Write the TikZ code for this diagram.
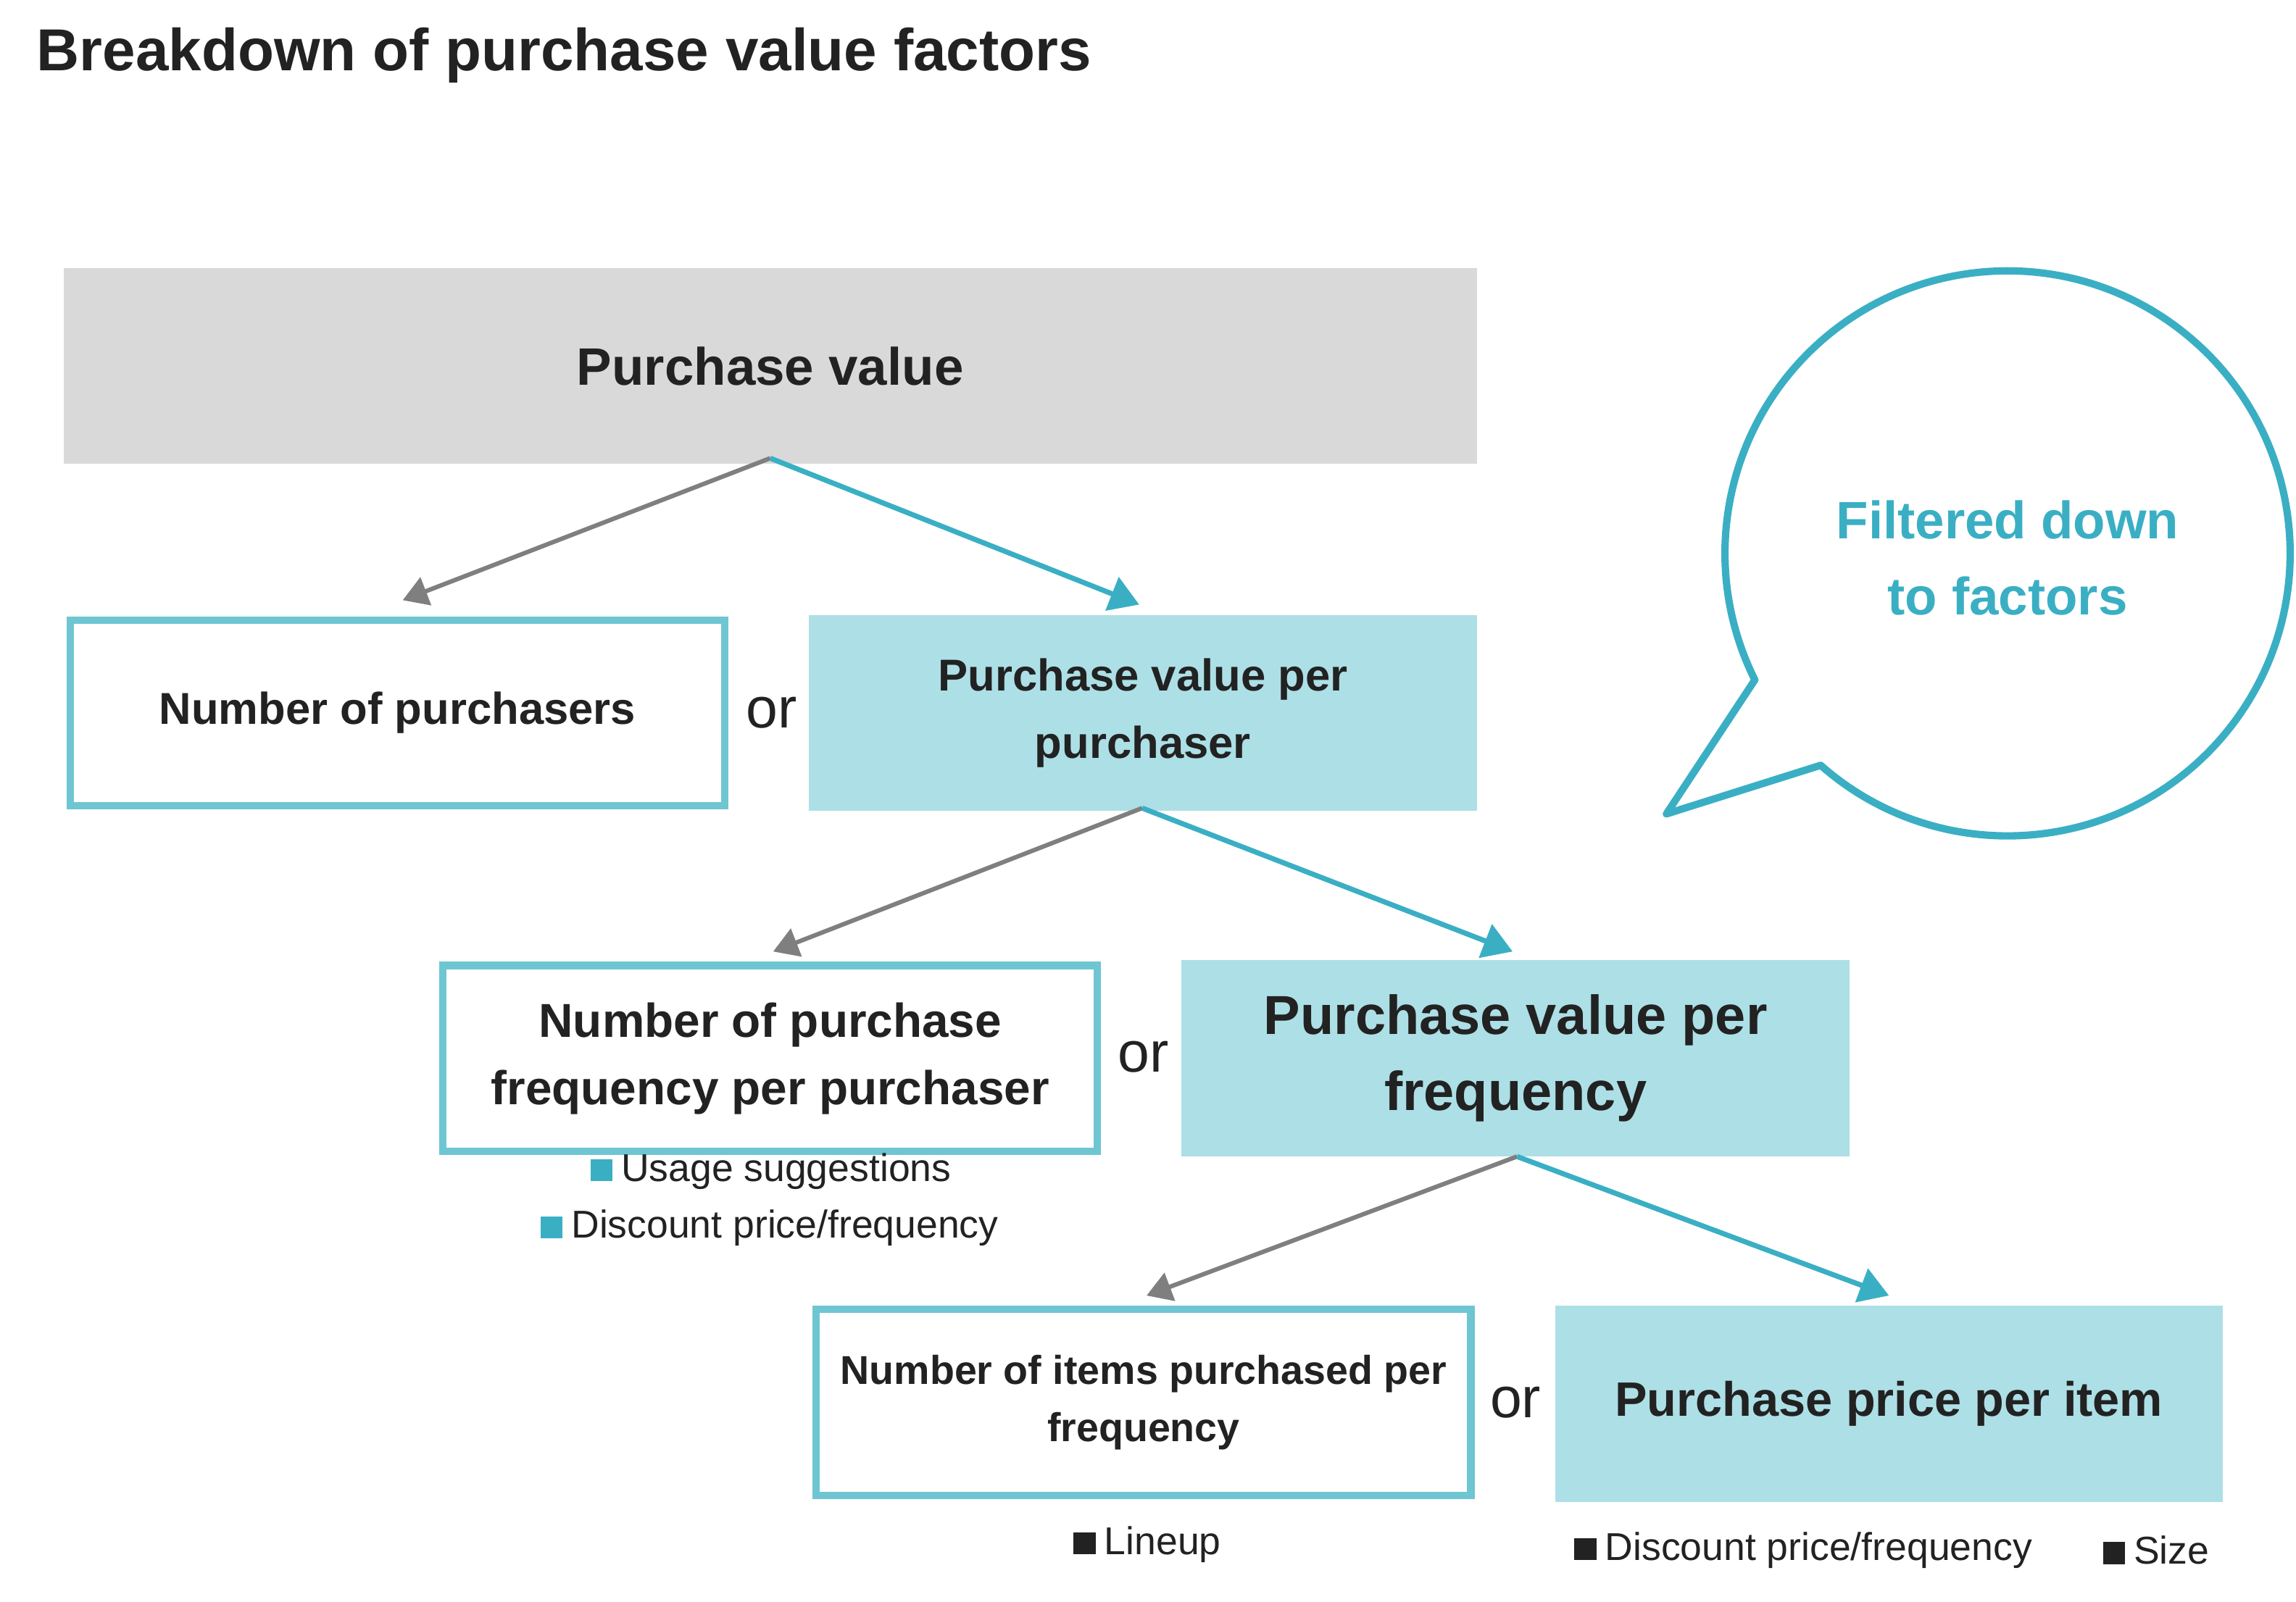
\documentclass[tikz,border=0pt]{standalone}
\usepackage{fontspec}
\setmainfont{Liberation Sans}
\usetikzlibrary{arrows.meta}
\definecolor{teal1}{HTML}{3AAFC4}
\definecolor{tealb}{HTML}{6EC6D2}
\definecolor{tealf}{HTML}{ADDFE6}
\definecolor{grayf}{HTML}{D9D9D9}
\definecolor{txt}{HTML}{222222}
\definecolor{arrg}{HTML}{7F7F7F}
\tikzset{
 fbox/.style={draw=tealf,fill=tealf,line width=1pt,minimum width=455pt,minimum height=133pt,align=center,text=txt,font=\bfseries},
 obox/.style={draw=tealb,fill=white,line width=5pt,minimum width=447pt,minimum height=127pt,align=center,text=txt,font=\bfseries},
 garr/.style={draw=arrg,line width=3pt,-{Triangle[length=17pt,width=20pt]}},
 tarr/.style={draw=teal1,line width=3.5pt,-{Triangle[length=20pt,width=24pt]}},
 ortxt/.style={text=txt,font=\fontsize{39}{42}\selectfont},
 bul/.style={text=txt,font=\fontsize{26.5}{30}\selectfont,anchor=west,inner sep=0pt},
}
\begin{document}
\begin{tikzpicture}[x=1pt,y=1pt]
\useasboundingbox (0,0) rectangle (1568,-1094);
\node[anchor=west,inner sep=0pt,text=txt,font=\fontsize{40.5}{44}\selectfont\bfseries] (title) at (25,-38) {Breakdown of purchase value factors};
\node[fbox,draw=grayf,fill=grayf,minimum width=964pt,font=\fontsize{36}{40}\selectfont\bfseries] (pv) at (526,-250) {Purchase value};
\node[obox,font=\fontsize{30.5}{36}\selectfont\bfseries] (np) at (271.5,-487) {Number of purchasers};
\node[fbox,font=\fontsize{30.5}{46}\selectfont\bfseries] (pvpp) at (780.5,-487) {Purchase value per\\purchaser};
\node[obox,font=\fontsize{32.5}{46}\selectfont\bfseries] (npf) at (526,-723) {Number of purchase\\frequency per purchaser};
\node[fbox,font=\fontsize{37.5}{52}\selectfont\bfseries] (pvpf) at (1035,-723) {Purchase value per\\frequency};
\node[obox,font=\fontsize{27.5}{39}\selectfont\bfseries] (nip) at (781,-958) {Number of items purchased per\\frequency};
\node[fbox,font=\fontsize{33}{38}\selectfont\bfseries] (ppi) at (1290,-959) {Purchase price per item};
\node[ortxt] (or1) at (527,-487) {or};
\node[ortxt] (or2) at (781,-722) {or};
\node[ortxt] (or3) at (1035,-958) {or};
\coordinate (a0) at (526,-313);
\coordinate (a1) at (275,-410);
\coordinate (a2) at (778,-413);
\coordinate (b0) at (780,-552);
\coordinate (b1) at (528,-650);
\coordinate (b2) at (1033,-650);
\coordinate (c0) at (1036,-790);
\coordinate (c1) at (783,-885);
\coordinate (c2) at (1290,-885);
\draw[garr] (a0) -- (a1);
\draw[tarr] (a0) -- (a2);
\draw[garr] (b0) -- (b1);
\draw[tarr] (b0) -- (b2);
\draw[garr] (c0) -- (c1);
\draw[tarr] (c0) -- (c2);
\node[bul] (u1) at (403,-800) {{\color{teal1}\rule{15pt}{15pt}}\hspace{6pt}Usage suggestions};
\node[bul] (u2) at (369,-839) {{\color{teal1}\rule{15pt}{15pt}}\hspace{6pt}Discount price/frequency};
\node[bul] (u3) at (733,-1055) {{\color{txt}\rule{15pt}{15pt}}\hspace{6pt}Lineup};
\node[bul] (u4) at (1075,-1059) {{\color{txt}\rule{15pt}{15pt}}\hspace{6pt}Discount price/frequency};
\node[bul] (u5) at (1436,-1059) {{\color{txt}\rule{15pt}{15pt}}\hspace{6pt}Size};
\draw[teal1,line width=5pt,fill=white,line join=round] (1371,-378) ++(228.6:193) arc[start angle=228.6,end angle=566.6,radius=193] -- (1138,-556) -- cycle;
\node[text=teal1,font=\fontsize{36}{52}\selectfont\bfseries,align=center] (bt) at (1371,-381) {Filtered down\\to factors};
\end{tikzpicture}
\end{document}
